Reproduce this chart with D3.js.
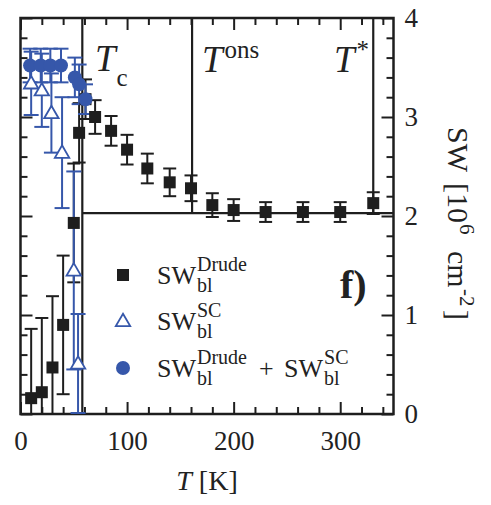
<!DOCTYPE html>
<html>
<head>
<meta charset="utf-8">
<script src="https://cdn.jsdelivr.net/npm/d3@7"></script>
<style>
  body { margin: 0; background: #fff; }
  svg text { font-family: "Liberation Serif", "Times New Roman", serif; fill: #222; }
</style>
</head>
<body>
<div id="chart"></div>
<script>
// SW_bl^Drude (black squares)
const drudeT   = [10, 20, 30, 40, 50, 55, 61, 70, 85, 100, 119, 140, 160, 180, 200, 230, 265, 300, 331];
const drudeSW  = [0.16, 0.22, 0.47, 0.90, 1.93, 2.84, 3.18, 3.00, 2.86, 2.67, 2.48, 2.34, 2.28, 2.11, 2.06, 2.04, 2.04, 2.04, 2.13];
const drudeErr = [0.70, 0.75, 0.72, 0.70, 0.60, 0.30, 0.20, 0.17, 0.15, 0.15, 0.15, 0.14, 0.13, 0.12, 0.11, 0.10, 0.10, 0.10, 0.11];

// SW_bl^SC (open triangles)
const scT   = [10, 20, 29, 39, 50, 54];
const scSW  = [3.34, 3.27, 3.04, 2.64, 1.45, 0.51];
const scErr = [0.32, 0.37, 0.40, 0.56, 1.00, 0.50];

// SW_bl^Drude + SW_bl^SC (filled circles)
const sumT   = [9, 19, 28, 38, 51, 55, 61];
const sumSW  = [3.52, 3.52, 3.52, 3.52, 3.40, 3.33, 3.18];
const sumErr = [0.17, 0.17, 0.17, 0.17, 0.20, 0.20, 0.15];

// characteristic temperatures and plateau level
const Tc = 58, Tons = 161, Tstar = 331, plateau = 2.03;

const xMajor = [0, 100, 200, 300];
const yMajor = [0, 1, 2, 3, 4];

const BLACK = "#1e1e1e";
const BLUE = "#3657aa";
const SERIF = "'Liberation Serif', 'Times New Roman', serif";

const W = 491, H = 505;
const svg = d3.select("#chart").append("svg")
  .attr("width", W).attr("height", H);

const x = d3.scaleLinear().domain([0, 350]).range([20.5, 393.5]);
const y = d3.scaleLinear().domain([0, 4]).range([414, 18]);

const xMinor = d3.range(0, 351, 20).filter(v => v % 100 !== 0);
const yMinor = d3.range(0, 4.01, 0.2).map(v => +v.toFixed(1)).filter(v => v % 1 !== 0);

const pLeft = x(0), pRight = x(350), pTop = y(4), pBottom = y(0);

// ticks on all four sides, pointing inward
function tickAxis(gen, tx, ty, values, size) {
  const g = svg.append("g")
    .attr("transform", `translate(${tx},${ty})`)
    .call(gen.tickValues(values).tickSize(-size).tickFormat(""));
  g.select(".domain").remove();
  g.selectAll("line").attr("stroke", BLACK).attr("stroke-width", 2);
}
tickAxis(d3.axisBottom(x), 0, pBottom, xMinor, 7);
tickAxis(d3.axisTop(x), 0, pTop, xMinor, 7);
tickAxis(d3.axisBottom(x), 0, pBottom, xMajor, 12);
tickAxis(d3.axisTop(x), 0, pTop, xMajor, 12);
tickAxis(d3.axisLeft(y), pLeft, 0, yMinor, 7);
tickAxis(d3.axisLeft(y), pLeft, 0, yMajor, 12);
tickAxis(d3.axisRight(y), pRight, 0, yMinor, 7);
tickAxis(d3.axisRight(y), pRight, 0, yMajor, 12);

// tick labels
const xLab = svg.append("g")
  .attr("transform", `translate(0,${pBottom})`)
  .call(d3.axisBottom(x).tickValues(xMajor).tickFormat(d3.format("d")).tickSize(0).tickPadding(17))
  .attr("font-family", SERIF).attr("font-size", 27);
xLab.select(".domain").remove();
xLab.selectAll("text").attr("fill", "#222");

const yLab = svg.append("g")
  .attr("transform", `translate(${pRight},0)`)
  .call(d3.axisRight(y).tickValues(yMajor).tickFormat(d3.format("d")).tickSize(0).tickPadding(11))
  .attr("font-family", SERIF).attr("font-size", 27);
yLab.select(".domain").remove();
yLab.selectAll("text").attr("fill", "#222");

// frame
svg.append("rect")
  .attr("x", pLeft).attr("y", pTop)
  .attr("width", pRight - pLeft).attr("height", pBottom - pTop)
  .attr("fill", "none").attr("stroke", BLACK).attr("stroke-width", 2.5);

// temperature markers and plateau line
const guides = svg.append("g").attr("stroke", BLACK).attr("stroke-width", 2.2);
guides.append("line").attr("x1", x(Tc)).attr("x2", x(Tc)).attr("y1", pTop).attr("y2", pBottom);
guides.append("line").attr("x1", x(Tons)).attr("x2", x(Tons)).attr("y1", pTop).attr("y2", y(plateau));
guides.append("line").attr("x1", x(Tstar)).attr("x2", x(Tstar)).attr("y1", pTop).attr("y2", y(plateau));
guides.append("line").attr("x1", x(Tc)).attr("x2", pRight).attr("y1", y(plateau)).attr("y2", y(plateau));

// error bars
function errorBars(T, V, E, color, cap) {
  const g = svg.append("g").attr("stroke", color).attr("stroke-width", 2);
  T.forEach((t, i) => {
    const lo = y(Math.max(0, V[i] - E[i]));
    const hi = y(Math.min(4, V[i] + E[i]));
    const cx = x(t);
    g.append("line").attr("x1", cx).attr("x2", cx).attr("y1", lo).attr("y2", hi);
    g.append("line").attr("x1", cx - cap / 2).attr("x2", cx + cap / 2).attr("y1", hi).attr("y2", hi);
    if (V[i] - E[i] > 0)
      g.append("line").attr("x1", cx - cap / 2).attr("x2", cx + cap / 2).attr("y1", lo).attr("y2", lo);
  });
}

errorBars(drudeT, drudeSW, drudeErr, BLACK, 13);
errorBars(scT, scSW, scErr, BLUE, 15);
errorBars(sumT, sumSW, sumErr, BLUE, 15);

const tri = d3.symbol().type(d3.symbolTriangle).size(90);

// Drude squares
svg.append("g").selectAll("rect")
  .data(drudeT.map((t, i) => [t, drudeSW[i]]))
  .join("rect")
  .attr("x", d => x(d[0]) - 6).attr("y", d => y(d[1]) - 6)
  .attr("width", 12).attr("height", 12)
  .attr("fill", BLACK);

// SC triangles
svg.append("g").selectAll("path")
  .data(scT.map((t, i) => [t, scSW[i]]))
  .join("path")
  .attr("d", tri)
  .attr("transform", d => `translate(${x(d[0])},${y(d[1]) + 1})`)
  .attr("fill", "#fff").attr("stroke", BLUE).attr("stroke-width", 1.8);

// sum circles
svg.append("g").selectAll("circle")
  .data(sumT.map((t, i) => [t, sumSW[i]]))
  .join("circle")
  .attr("cx", d => x(d[0])).attr("cy", d => y(d[1]))
  .attr("r", 7)
  .attr("fill", BLUE);

// temperature labels
function tLabel(px, py, sup, sub) {
  const t = svg.append("text").attr("x", px).attr("y", py).attr("font-size", 37);
  t.append("tspan").attr("font-style", "italic").text("T");
  if (sup) t.append("tspan").attr("font-size", 25).attr("dy", -14).attr("dx", 2).text(sup);
  if (sub) t.append("tspan").attr("font-size", 25).attr("dy", 15).attr("dx", 1).text(sub);
}
tLabel(95, 71, null, "c");
tLabel(202, 72, "ons", null);
tLabel(334, 72, "*", null);

// panel tag
svg.append("text").attr("x", 340).attr("y", 298)
  .attr("font-size", 40).attr("font-weight", "bold").text("f)");

// legend
function swLabel(px, py, sup, sub) {
  const g = svg.append("g");
  const main = g.append("text").attr("x", px).attr("y", py).attr("font-size", 26).text("SW");
  const w = main.node().getComputedTextLength();
  g.append("text").attr("x", px + w + 1).attr("y", py - 13).attr("font-size", 20).text(sup);
  g.append("text").attr("x", px + w + 1).attr("y", py + 8).attr("font-size", 20).text(sub);
  const ws = g.node().getBBox();
  return ws.x + ws.width;
}
const legX = 123, legTextX = 157;
const legY = [275, 321, 368];

svg.append("rect").attr("x", legX - 6).attr("y", legY[0] - 6).attr("width", 12).attr("height", 12).attr("fill", BLACK);
svg.append("path").attr("d", tri).attr("transform", `translate(${legX},${legY[1] + 1})`)
  .attr("fill", "#fff").attr("stroke", BLUE).attr("stroke-width", 1.8);
svg.append("circle").attr("cx", legX).attr("cy", legY[2]).attr("r", 7).attr("fill", BLUE);

swLabel(legTextX, legY[0] + 9, "Drude", "bl");
swLabel(legTextX, legY[1] + 9, "SC", "bl");
const endX = swLabel(legTextX, legY[2] + 9, "Drude", "bl");
svg.append("text").attr("x", endX + 12).attr("y", legY[2] + 9).attr("font-size", 26).text("+");
swLabel(endX + 37, legY[2] + 9, "SC", "bl");

// axis titles
const xt = svg.append("text").attr("x", 207).attr("y", 490)
  .attr("text-anchor", "middle").attr("font-size", 28);
xt.append("tspan").attr("font-style", "italic").text("T");
xt.append("tspan").text(" [K]");

// right-hand title, read top to bottom
const yt = svg.append("text")
  .attr("transform", `translate(448,127) rotate(90)`)
  .attr("text-anchor", "start").attr("font-size", 30);
yt.append("tspan").attr("x", 0).text("SW");
yt.append("tspan").attr("x", 56).text("[10");
yt.append("tspan").attr("x", 97).attr("font-size", 21).attr("dy", -12).text("6");
yt.append("tspan").attr("x", 124).attr("dy", 12).text("cm");
yt.append("tspan").attr("x", 162).attr("font-size", 21).attr("dy", -12).text("-2");
yt.append("tspan").attr("x", 183).attr("dy", 12).text("]");
</script>
</body>
</html>
